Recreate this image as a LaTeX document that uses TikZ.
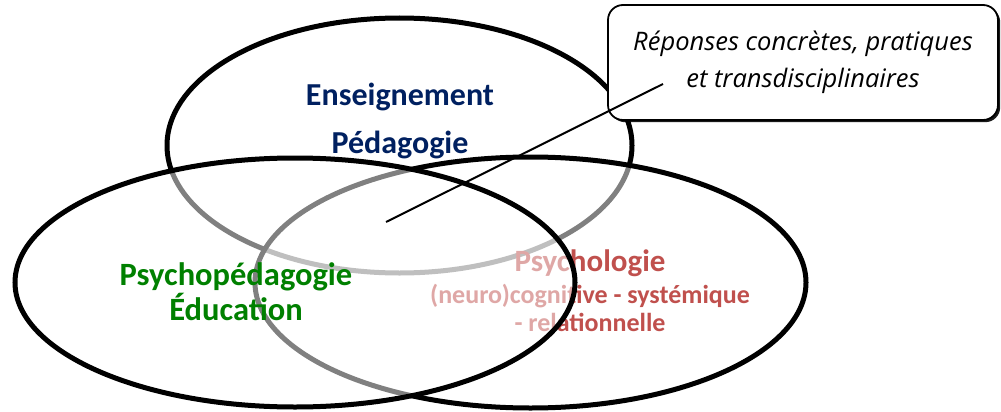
\documentclass[tikz,border=0pt]{standalone}
\usepackage{fontspec}
\setmainfont{Carlito}
\newfontfamily\callfont{Open Sans}
\usetikzlibrary{shadows}
\definecolor{cblue}{HTML}{002060}
\definecolor{cgreen}{HTML}{008000}
\definecolor{cred}{HTML}{C0504D}
\begin{document}
\begin{tikzpicture}[x=1pt,y=-1pt,
  ring/.style={line width=5pt, draw=black},
  veil/.style={fill=white, fill opacity=0.5},
  lbl/.style={anchor=base, inner sep=0pt, font=\bfseries\fontsize{32}{36}\selectfont},
  sublbl/.style={anchor=base, inner sep=0pt, font=\bfseries\fontsize{26}{30}\selectfont},
  callbox/.style={draw=black, line width=1.8pt, fill=white, rounded corners=15pt,
    minimum width=390pt, minimum height=115pt, align=center,
    font=\callfont\itshape\fontsize{25.5}{37}\selectfont,
    drop shadow={shadow xshift=2.2pt, shadow yshift=-2.2pt, fill=black, opacity=0.9}}]
\useasboundingbox (0,0) rectangle (1001,412);
% top ellipse
\draw[ring] (399.5,145.5) ellipse [x radius=232.5, y radius=127.5];
\node[lbl, text=cblue] (ens) at (400,105) {Enseignement};
\node[lbl, text=cblue] (ped) at (400,153) {Pédagogie};
% right ellipse
\fill[veil] (530.5,282.5) ellipse [x radius=275.5, y radius=125.5];
\draw[ring] (530.5,282.5) ellipse [x radius=275.5, y radius=125.5];
\node[lbl, text=cred, font=\bfseries\fontsize{31}{34}\selectfont] (psy) at (590,271) {Psychologie};
\node[sublbl, text=cred] (cog) at (590,303) {(neuro)cognitive - systémique};
\node[sublbl, text=cred] (rel) at (590,331) {- relationnelle};
% left ellipse
\fill[veil] (295,282.5) ellipse [x radius=280, y radius=124.5];
\draw[ring] (295,282.5) ellipse [x radius=280, y radius=124.5];
\node[lbl, text=cgreen, font=\bfseries\fontsize{32.5}{36}\selectfont] (psp) at (236,285) {Psychopédagogie};
\node[lbl, text=cgreen, font=\bfseries\fontsize{32.5}{36}\selectfont] (edu) at (236,320) {Éducation};
% callout
\node[callbox] (call) at (803,62.5) {Réponses concrètes, pratiques\\et transdisciplinaires};
\coordinate (tipA) at (386,222);
\coordinate (tipB) at (663,84);
\draw[line width=2pt] (tipA) -- (tipB);
\end{tikzpicture}
\end{document}
